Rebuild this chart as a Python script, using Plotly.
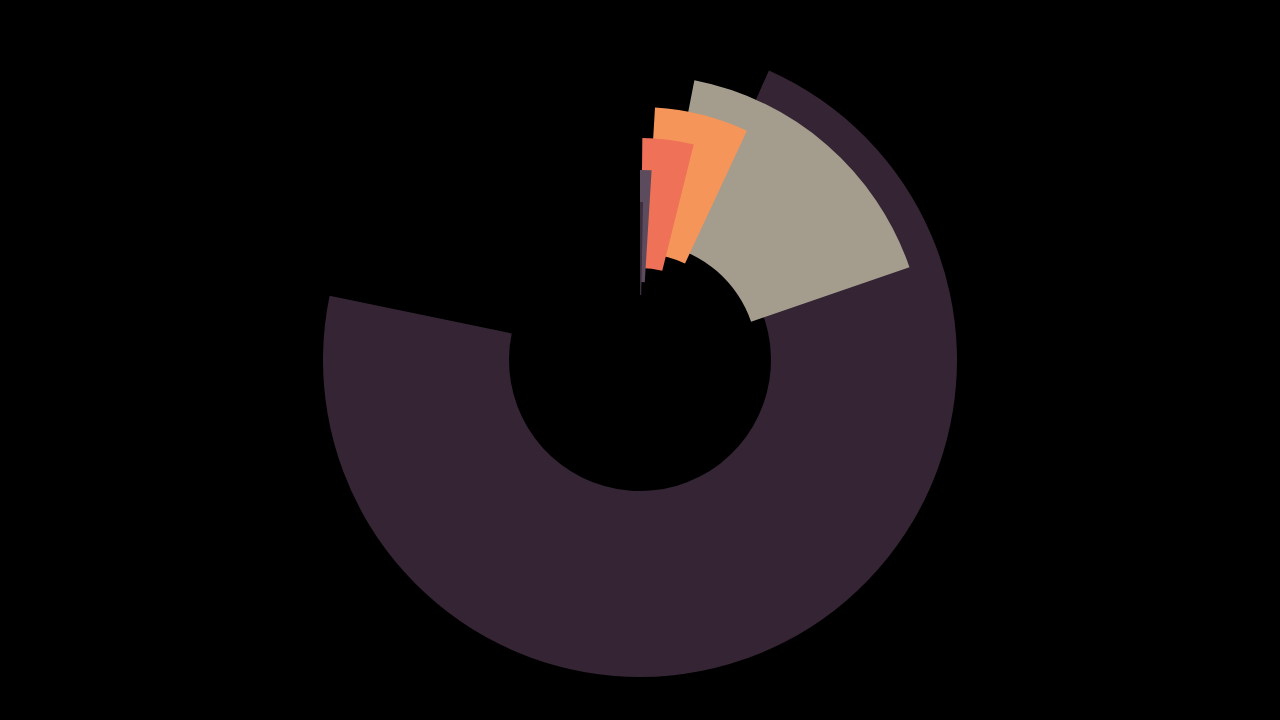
import plotly.graph_objects as go

# Data (angles in degrees, clockwise from north; radii in radial-axis units)
segments = ["S1", "S2", "S3", "S4", "S5", "S6"]
theta_center = [152.85, 41.0, 14.2, 7.3, 1.75, 0.55]
theta_width = [257.7, 60.0, 21.6, 13.4, 3.5, 1.1]
outer_r = [317, 285, 253, 222, 190, 158]
inner_r = [131, 117.5, 106.5, 92, 78, 65]
colors = ["#342434", "#a49c8c", "#f5955a", "#ee7158", "#5c4b5c", "#3d2e3e"]

lengths = [o - i for o, i in zip(outer_r, inner_r)]

fig = go.Figure()
fig.add_trace(go.Barpolar(
    r=lengths,
    base=inner_r,
    theta=theta_center,
    width=theta_width,
    marker=dict(color=colors, line=dict(width=0)),
    text=segments,
    hoverinfo="text",
    showlegend=False,
))

fig.update_layout(
    width=1280, height=720,
    margin=dict(l=0, r=0, t=0, b=0),
    paper_bgcolor="black",
    plot_bgcolor="black",
    polar=dict(
        bgcolor="black",
        domain=dict(x=[0, 1], y=[0, 1]),
        hole=0,
        angularaxis=dict(direction="clockwise", rotation=90, visible=False,
                         showgrid=False, showline=False, showticklabels=False),
        radialaxis=dict(range=[0, 360], visible=False, showgrid=False,
                        showline=False, showticklabels=False),
    ),
)

fig.write_html(
    "out.html",
    config={"displayModeBar": False},
    post_script="document.body.style.margin='0';document.body.style.background='black';document.body.style.overflow='hidden';",
)
